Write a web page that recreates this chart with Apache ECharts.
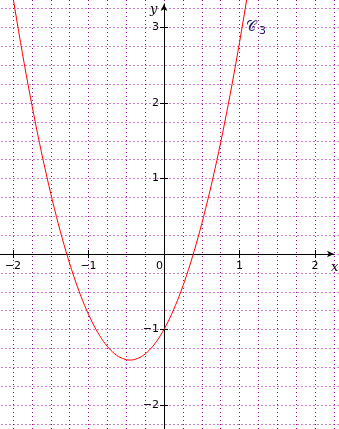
<!DOCTYPE html>
<html>
<head>
<meta charset="utf-8">
<script src="https://cdn.jsdelivr.net/npm/echarts@6/dist/echarts.min.js"></script>
<style>
html,body{margin:0;padding:0;background:#fff;}
#c{width:339px;height:429px;}
</style>
</head>
<body>
<div id="c"></div>
<script>
// Curve samples (x, y)
const curveX = [-2.1, -2.0, -1.9, -1.8, -1.7, -1.6, -1.5, -1.4, -1.3, -1.2, -1.1, -1.0, -0.9, -0.8, -0.7, -0.6, -0.5, -0.45, -0.4, -0.3, -0.2, -0.1, 0.0, 0.1, 0.2, 0.3, 0.4, 0.5, 0.6, 0.7, 0.8, 0.9, 1.0, 1.1, 1.2];
const curveY = [4.04, 3.4, 2.8, 2.24, 1.72, 1.24, 0.8, 0.4, 0.04, -0.28, -0.56, -0.8, -1.0, -1.16, -1.28, -1.36, -1.4, -1.405, -1.4, -1.36, -1.28, -1.16, -1.0, -0.8, -0.56, -0.28, 0.04, 0.4, 0.8, 1.24, 1.72, 2.24, 2.8, 3.4, 4.04];
const xTickLabels = ['−2', '−1', '0', '1', '2'];
const yTickLabels = ['−2', '−1', '1', '2', '3'];
const curveName = '𝒞';
const curveSub = '3';

const U = 75.5, OX = 164, OY = 254, W = 339, H = 429;
const gridColor = '#990099';
const labelFont = {fontFamily: 'DejaVu Sans', fontSize: 11, color: '#000'};

function fmtX(v) {
  const i = [-2, -1, 0, 1, 2].indexOf(Math.round(v));
  if (Math.abs(v - Math.round(v)) > 1e-6 || i < 0) return '';
  return v === 0 ? '{z|' + xTickLabels[i] + '}' : xTickLabels[i];
}
function fmtY(v) {
  const i = [-2, -1, 1, 2, 3].indexOf(Math.round(v));
  if (Math.abs(v - Math.round(v)) > 1e-6 || i < 0) return '';
  return yTickLabels[i];
}

const splitDash = {show: true, lineStyle: {color: gridColor, width: 1, type: [1, 3]}};
const data = curveX.map((x, i) => [x, curveY[i]]);
const lineA = {show: false, onZero: true};
const tickA = {show: true, length: 4, lineStyle: {color: '#000'}};
const off = {show: false};

const chart = echarts.init(document.getElementById('c'), null, {renderer: 'canvas'});
chart.setOption({
  animation: false,
  backgroundColor: '#fff',
  grid: [
    // main grid: grid lines, ticks, curve
    {left: OX - 3 * U, top: OY - 4 * U, width: 6 * U, height: 7 * U, show: false, outerBoundsMode: 'none'},
    // axis lines with arrows
    {left: 0, top: 4, width: 334, height: H - 4, show: false, outerBoundsMode: 'none'},
    // x tick labels (bottom edge on the x axis)
    {left: OX - 3 * U, top: OY - 4 * U, width: 6 * U, height: 4 * U, show: false, outerBoundsMode: 'none'},
    // y tick labels (left edge on the y axis)
    {left: OX, top: OY - 4 * U, width: 3 * U, height: 7 * U, show: false, outerBoundsMode: 'none'}
  ],
  xAxis: [
    {type: 'value', gridIndex: 0, min: -3, max: 3, interval: 1,
     axisLine: lineA, axisTick: tickA,
     minorTick: {show: false, splitNumber: 4},
     splitLine: splitDash, minorSplitLine: splitDash, axisLabel: off},
    {type: 'value', gridIndex: 0, position: 'top', min: -3, max: 3, interval: 1,
     axisLine: lineA, axisTick: tickA, splitLine: off, axisLabel: off},
    {type: 'value', gridIndex: 1, min: -OX / U, max: (334 - OX) / U,
     axisLine: {show: true, onZero: true, symbol: ['none', 'arrow'], symbolSize: [5, 7], lineStyle: {color: '#000', width: 1}},
     axisTick: off, splitLine: off, axisLabel: off},
    {type: 'value', gridIndex: 2, position: 'bottom', min: -3, max: 3, interval: 1,
     axisLine: {show: false, onZero: false}, axisTick: off, splitLine: off,
     axisLabel: {show: true, margin: 7, formatter: fmtX, ...labelFont,
       rich: {z: {padding: [0, 9, 0, 0], ...labelFont}}}},
    {type: 'value', gridIndex: 3, min: 0, max: 3, show: false}
  ],
  yAxis: [
    {type: 'value', gridIndex: 0, min: -3, max: 4, interval: 1,
     axisLine: lineA, axisTick: tickA,
     minorTick: {show: false, splitNumber: 4},
     splitLine: splitDash, minorSplitLine: splitDash, axisLabel: off},
    {type: 'value', gridIndex: 0, position: 'right', min: -3, max: 4, interval: 1,
     axisLine: lineA, axisTick: tickA, splitLine: off, axisLabel: off},
    {type: 'value', gridIndex: 1, min: -(H - OY) / U, max: (OY - 4) / U,
     axisLine: {show: true, onZero: true, symbol: ['none', 'arrow'], symbolSize: [5, 7], lineStyle: {color: '#000', width: 1}},
     axisTick: off, splitLine: off, axisLabel: off},
    {type: 'value', gridIndex: 2, min: 0, max: 4, show: false},
    {type: 'value', gridIndex: 3, position: 'left', min: -3, max: 4, interval: 1,
     axisLine: {show: false, onZero: false}, axisTick: off, splitLine: off,
     axisLabel: {show: true, margin: 5, formatter: fmtY, ...labelFont}}
  ],
  series: [{
    type: 'line', xAxisIndex: 0, yAxisIndex: 0, data: data, smooth: 0.3,
    showSymbol: false, symbol: 'none', clip: true,
    lineStyle: {color: '#ff0000', width: 1}, z: 3
  }],
  graphic: [
    {type: 'text', left: 331, top: 261, style: {text: 'x', font: 'italic 13px "DejaVu Serif"', fill: '#000'}},
    {type: 'text', left: 150, top: 3, style: {text: 'y', font: 'italic 13px "DejaVu Serif"', fill: '#000'}},
    {type: 'text', left: 246, top: 20, style: {text: curveName, font: '14px "DejaVu Serif"', fill: '#1a1a66'}},
    {type: 'text', left: 259, top: 26, style: {text: curveSub, font: '11px "DejaVu Sans"', fill: '#1a1a66'}}
  ]
});
</script>
</body>
</html>
